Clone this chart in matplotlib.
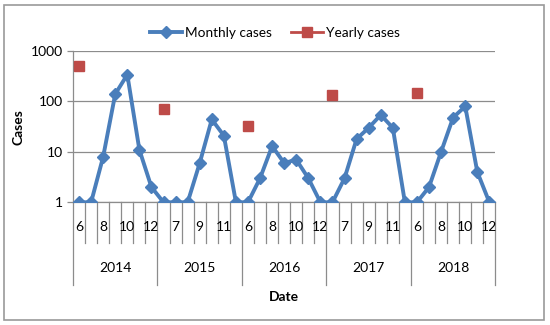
import matplotlib
matplotlib.use("Agg")
from matplotlib import pyplot as plt
from matplotlib.lines import Line2D
from matplotlib.patches import Rectangle

plt.rcParams['font.family'] = ['Lato', 'DejaVu Sans']

# data
years = [2014, 2015, 2016, 2017, 2018]
months = [6, 7, 8, 9, 10, 11, 12]
monthly_cases = [1, 1, 8, 140, 340, 11, 2,
                 1, 1, 1, 6, 44, 21, 1,
                 1, 3, 13, 6, 7, 3, 1,
                 1, 3, 18, 30, 54, 30, 1,
                 1, 2, 10, 48, 80, 4, 1]
yearly_cases = [500, 70, 32, 137, 146]

blue = '#4A7EBB'
red = '#BE4B48'
grey = '#8C8C8C'

n_per_year = len(months)
x = list(range(len(years) * n_per_year))
x_year = [i * n_per_year for i in range(len(years))]

fig = plt.figure(figsize=(5.5, 3.25), dpi=100)
ax = fig.add_axes([73 / 550, 1 - 202.3 / 325, 422.4 / 550, 151.3 / 325])

ax.plot(x, monthly_cases, color=blue, lw=2.8, marker='D', ms=5.8, zorder=3)
ax.plot(x_year, yearly_cases, ls='none', color=red, marker='s', ms=7.5, zorder=3)

ax.set_yscale('log')
ax.set_ylim(1, 1000)
ax.set_xlim(-0.5, len(x) - 0.5)
ax.set_yticks([1, 10, 100, 1000])
ax.set_yticklabels(['1', '10', '100', '1000'])
ax.minorticks_off()
ax.yaxis.grid(True, color=grey, lw=0.9)
ax.set_axisbelow(True)
for s in ['top', 'right']:
    ax.spines[s].set_visible(False)
ax.spines['left'].set_color(grey)
ax.spines['bottom'].set_color(grey)
ax.spines['left'].set_linewidth(0.9)
ax.spines['bottom'].set_linewidth(0.9)
ax.tick_params(axis='y', length=4, color=grey, width=0.9, pad=3, labelsize=10)
ax.set_xticks([])

# multi-level category axis below the plot
trans = ax.get_xaxis_transform()
for i in range(len(x) + 1):
    pos = i - 0.5
    bottom = -0.547 if i % n_per_year == 0 else -0.269
    ax.plot([pos, pos], [0, bottom], color=grey, lw=0.9, transform=trans, clip_on=False)
for i in x:
    if i % 2 == 0:
        ax.text(i, -0.161, str(months[i % n_per_year]), transform=trans,
                ha='center', va='center', fontsize=10)
for k, yr in enumerate(years):
    ax.text(k * n_per_year + (n_per_year - 1) / 2, -0.434, str(yr), transform=trans,
            ha='center', va='center', fontsize=10)
ax.text(0.5, -0.626, 'Date', transform=ax.transAxes, ha='center', va='center',
        fontsize=10, fontweight='bold')

ax.set_ylabel('Cases', fontsize=10, fontweight='bold')
ax.yaxis.set_label_coords(-0.116, 0.5)

handles = [Line2D([], [], color=blue, lw=2.8, marker='D', ms=5.8),
           Line2D([], [], color=red, lw=2.0, marker='s', ms=7.5)]
fig.legend(handles, ['Monthly cases', 'Yearly cases'], loc='center',
           bbox_to_anchor=(275 / 550, 1 - 33 / 325), ncol=2, frameon=False,
           fontsize=9.8, handlelength=2.3, handletextpad=0.22, columnspacing=1.45)

fig.patches.append(Rectangle((4 / 550, 1 - 320 / 325), 540 / 550, 315 / 325,
                             transform=fig.transFigure, fill=False,
                             edgecolor='#9A9A9A', lw=1.2))

fig.savefig('out.png', dpi=100)
